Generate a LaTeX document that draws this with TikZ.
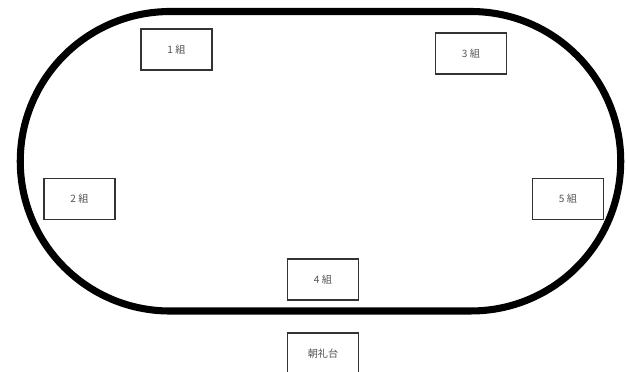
\documentclass[tikz,border=0pt]{standalone}
\usepackage{fontspec}
\newfontfamily\jpfont{Noto Sans CJK JP}
\usetikzlibrary{positioning}

\definecolor{boxline}{HTML}{333333}
\definecolor{labeltext}{HTML}{555555}

\begin{document}
\begin{tikzpicture}[x=0.75pt, y=-0.75pt,
   group/.style={draw=boxline, line width=1pt, fill=white, minimum width=53.25pt,
      minimum height=30.75pt, inner sep=0pt, text=labeltext,
      font=\jpfont\fontsize{7.6pt}{9pt}\selectfont},
   track/.style={line width=5.3pt, draw=black}]
   \useasboundingbox (0,0) rectangle (626,372);

   % track
   \draw[track] (170,11.5) -- (471,11.5) arc (90:-90:112.3pt)
      -- (170,311) arc (270:90:112.3pt) -- cycle;

   \node[group] (g1) at (176.5,49.5) {1\kern1.8pt 組};
   \node[group] (g2) at (79.5,199)   {2\kern1.8pt 組};
   \node[group] (g3) at (471,53.5)   {3\kern1.8pt 組};
   \node[group] (g4) at (323,279.5)  {4\kern1.8pt 組};
   \node[group] (g5) at (568,199)    {5\kern1.8pt 組};
   \node[group] (stage) at (323,353.5) {朝礼台};
\end{tikzpicture}
\end{document}
